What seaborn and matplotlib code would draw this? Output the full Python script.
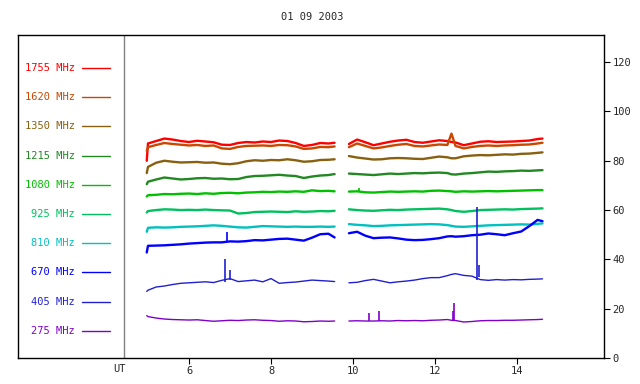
import numpy as np
import pandas as pd
import matplotlib
matplotlib.use("Agg")
import matplotlib.pyplot as plt
import seaborn as sns

title = "01 09 2003"
freqs = ["1755", "1620", "1350", "1215", "1080", "925", "810", "670", "405", "275"]
colors = ["#ff0000", "#c84800", "#886010", "#228822", "#00c000",
          "#00c060", "#00c0c0", "#0000ff", "#2020d0", "#8000c8"]
yticks = [0, 20, 40, 60, 80, 100, 120]
xticks = [6, 8, 10, 12, 14]

t1 = [4.97, 5.0, 5.2, 5.4, 5.6, 5.8, 6.0, 6.2, 6.4, 6.6, 6.8, 7.0, 7.2, 7.4, 7.6,
      7.8, 8.0, 8.2, 8.4, 8.6, 8.8, 9.0, 9.2, 9.4, 9.55]
t2 = [9.9, 10.1, 10.3, 10.5, 10.7, 10.9, 11.1, 11.3, 11.5, 11.7, 11.9, 12.1, 12.3,
      12.4, 12.5, 12.7, 12.9, 13.1, 13.3, 13.5, 13.7, 13.9, 14.1, 14.3, 14.5, 14.62]

s1755_a = [80, 87, 88, 89, 88.6, 88.0, 87.6, 88.1, 87.8, 87.5, 86.5, 86.4, 87.2, 87.6,
           87.4, 87.8, 87.6, 88.2, 88.0, 87.2, 86.0, 86.4, 87.2, 87.0, 87.3]
s1755_b = [86.8, 88.6, 87.5, 86.3, 87.0, 87.7, 88.2, 88.5, 87.6, 87.3, 87.8, 88.3, 88.0,
           87.6, 87.4, 86.3, 87.0, 87.7, 87.9, 87.6, 87.7, 87.8, 88.0, 88.2, 88.8, 89.0]
s1620_a = [84, 85.5, 86.4, 87.2, 86.8, 86.5, 86.2, 86.4, 86.0, 86.2, 85.0, 84.8, 85.6,
           86.0, 86.1, 86.2, 86.0, 86.4, 86.3, 85.8, 84.8, 85.0, 85.6, 85.5, 85.8]
s1620_b = [85.5, 87.0, 86.0, 85.0, 85.4, 86.0, 86.5, 86.8, 86.0, 85.8, 86.2, 86.6, 86.4,
           91.0, 86.0, 85.0, 85.6, 86.0, 86.2, 86.0, 86.2, 86.3, 86.5, 86.6, 87.0, 87.3]
s1350_a = [75, 77.5, 79.2, 80.0, 79.6, 79.3, 79.4, 79.5, 79.2, 79.3, 78.8, 78.6, 79.0,
           79.8, 80.2, 80.0, 80.3, 80.2, 80.6, 80.2, 79.6, 79.8, 80.3, 80.4, 80.6]
s1350_b = [81.9, 81.3, 80.9, 80.5, 80.6, 81.0, 81.1, 81.0, 80.8, 80.7, 81.2, 81.7, 81.4,
           81.0, 81.0, 81.8, 82.1, 82.3, 82.2, 82.4, 82.6, 82.5, 82.8, 82.9, 83.2, 83.4]
s1215_a = [70.5, 71.5, 72.4, 73.2, 72.8, 72.4, 72.6, 72.9, 73.0, 72.7, 72.8, 72.5, 72.6,
           73.4, 73.8, 73.9, 74.1, 74.3, 74.0, 73.8, 73.0, 73.6, 74.0, 74.2, 74.6]
s1215_b = [74.8, 74.6, 74.4, 74.2, 74.5, 74.8, 74.6, 74.8, 75.0, 74.9, 75.1, 75.2, 75.0,
           74.5, 74.4, 74.8, 75.0, 75.3, 75.6, 75.5, 75.7, 75.8, 76.0, 75.9, 76.1, 76.2]
s1080_a = [65.5, 66.0, 66.2, 66.5, 66.4, 66.6, 66.7, 66.5, 66.8, 66.6, 66.9, 67.0, 66.8,
           67.1, 67.2, 67.4, 67.3, 67.5, 67.4, 67.6, 67.4, 68.0, 67.7, 67.8, 67.6]
s1080_b = [67.5, 67.6, 67.2, 67.1, 67.3, 67.5, 67.4, 67.5, 67.6, 67.5, 67.8, 67.9, 67.7,
           67.6, 67.4, 67.6, 67.5, 67.6, 67.7, 67.6, 67.7, 67.8, 67.9, 68.0, 68.1, 68.1]
s925_a = [59.0, 59.6, 60.0, 60.3, 60.2, 60.0, 60.1, 60.0, 60.2, 60.0, 59.9, 59.8, 58.6,
          58.8, 59.2, 59.3, 59.4, 59.3, 59.2, 59.5, 59.3, 59.4, 59.6, 59.5, 59.7]
s925_b = [60.3, 60.0, 59.8, 59.7, 59.9, 60.1, 60.0, 60.2, 60.3, 60.4, 60.5, 60.6, 60.3,
          60.0, 59.6, 59.3, 59.6, 60.0, 60.1, 60.2, 60.3, 60.2, 60.4, 60.5, 60.6, 60.7]
s810_a = [51.2, 52.8, 53.0, 52.9, 53.0, 53.2, 53.3, 53.4, 53.6, 53.8, 53.6, 53.3, 53.0,
          52.9, 53.2, 53.5, 53.4, 53.3, 53.2, 53.3, 53.2, 53.2, 53.3, 53.2, 53.3]
s810_b = [54.3, 54.0, 53.8, 53.5, 53.6, 53.8, 53.9, 54.0, 54.1, 54.2, 54.3, 54.2, 53.9,
          53.6, 53.3, 53.2, 53.4, 53.6, 53.8, 53.9, 54.0, 54.1, 54.2, 54.1, 54.4, 54.6]
s670_a = [42.8, 45.5, 45.6, 45.7, 45.9, 46.1, 46.4, 46.6, 46.8, 46.9, 46.9, 47.3, 47.2,
          47.4, 47.8, 47.7, 48.0, 48.3, 48.4, 48.0, 47.6, 48.8, 50.2, 50.4, 48.9]
s670_b = [50.6, 51.2, 49.6, 48.6, 48.8, 48.9, 48.5, 48.0, 47.8, 47.9, 48.2, 48.6, 49.3,
          49.4, 49.2, 49.4, 49.8, 50.0, 50.5, 50.2, 49.8, 50.6, 51.3, 53.5, 56.0, 55.5]
s405_a = [27.0, 27.5, 28.8, 29.2, 29.8, 30.3, 30.5, 30.7, 30.9, 30.6, 31.5, 32.2, 31.0,
          31.3, 31.6, 30.9, 32.2, 30.3, 30.6, 30.8, 31.2, 31.6, 31.4, 31.2, 31.0]
s405_b = [30.5, 30.7, 31.4, 31.9, 31.2, 30.5, 30.9, 31.2, 31.6, 32.2, 32.6, 32.6, 33.4,
          33.9, 34.2, 33.5, 33.2, 31.8, 31.5, 31.8, 31.6, 31.8, 31.7, 31.9, 32.0, 32.1]
s275_a = [17.2, 16.8, 16.2, 15.8, 15.6, 15.5, 15.4, 15.5, 15.2, 14.9, 15.1, 15.3, 15.2,
          15.4, 15.5, 15.3, 15.2, 14.9, 15.1, 15.0, 14.7, 14.8, 15.0, 14.9, 15.0]
s275_b = [15.0, 15.1, 15.0, 15.0, 15.1, 15.0, 15.2, 15.1, 15.2, 15.1, 15.3, 15.4, 15.6,
          15.3, 15.2, 14.6, 14.8, 15.1, 15.2, 15.2, 15.3, 15.3, 15.4, 15.5, 15.6, 15.7]

# short bursts (vertical spikes)
spike_freq = ["405", "405", "405", "405", "670", "1080", "275", "275", "275", "275"]
spike_time = [6.89, 7.0, 13.02, 13.06, 6.92, 10.15, 10.40, 10.64, 12.44, 12.47]
spike_base = [31.0, 31.5, 31.5, 33.0, 47.0, 67.5, 15.0, 15.0, 15.0, 15.0]
spike_peak = [40.1, 35.7, 61.3, 37.7, 51.2, 69.0, 18.1, 19.0, 19.0, 22.2]

series = {
    "1755": (s1755_a, s1755_b), "1620": (s1620_a, s1620_b),
    "1350": (s1350_a, s1350_b), "1215": (s1215_a, s1215_b),
    "1080": (s1080_a, s1080_b), "925": (s925_a, s925_b),
    "810": (s810_a, s810_b), "670": (s670_a, s670_b),
    "405": (s405_a, s405_b), "275": (s275_a, s275_b),
}

rows = []
for f in freqs:
    a, b = series[f]
    rows += [(f, 0, t, v) for t, v in zip(t1, a)]
    rows += [(f, 1, t, v) for t, v in zip(t2, b)]
df = pd.DataFrame(rows, columns=["freq", "seg", "t", "v"])

sns.set_style("white")
plt.rcParams["font.family"] = ["DejaVu Sans Mono"]
fs = 7.5

fig = plt.figure(figsize=(6.4, 3.84), dpi=100)
ax = fig.add_axes([18 / 640, 26 / 384, 586 / 640, 323 / 384])

cmap = dict(zip(freqs, colors))
for f in freqs:
    lw = 1.0 if f in ("405", "275") else 1.7
    sub = df[df.freq == f]
    sns.lineplot(data=sub, x="t", y="v", units="seg", estimator=None,
                 color=cmap[f], lw=lw, ax=ax, legend=False)

for f, t, b, p in zip(spike_freq, spike_time, spike_base, spike_peak):
    ax.vlines(t, b, p, color=cmap[f], lw=1.2)

ax.set_xlim(1.83, 16.12)
ax.set_ylim(0, 131)
ax.set_xticks(xticks)
ax.set_xticklabels([str(x) for x in xticks], fontsize=fs)
ax.yaxis.tick_right()
ax.set_yticks(yticks)
ax.set_yticklabels([str(y) for y in yticks], fontsize=fs)
ax.tick_params(axis="both", direction="out", length=4, width=0.8, color="black",
               pad=2, bottom=True, right=True, left=False)
ax.set_xlabel("")
ax.set_ylabel("")
for s in ax.spines.values():
    s.set_color("black")
    s.set_linewidth(1.0)

# separator between legend and data
ax.axvline(x=1.83 + (124 - 18) / 41, color="#808080", lw=1.0)
ax.text(0.174, -0.018, "UT", transform=ax.transAxes, ha="center", va="top", fontsize=fs)

# manual legend
for i, (f, c) in enumerate(zip(freqs, colors)):
    yf = 0.898 - i * 0.0904
    ax.text(0.0973, yf, f"{f} MHz", transform=ax.transAxes, ha="right", va="center",
            color=c, fontsize=fs)
    ax.plot([0.109, 0.157], [yf, yf], transform=ax.transAxes, color=c, lw=1.0)

fig.text(312 / 640, 1 - 17 / 384, title, ha="center", va="center", fontsize=fs)

fig.savefig("out.png", dpi=100, facecolor="white")
